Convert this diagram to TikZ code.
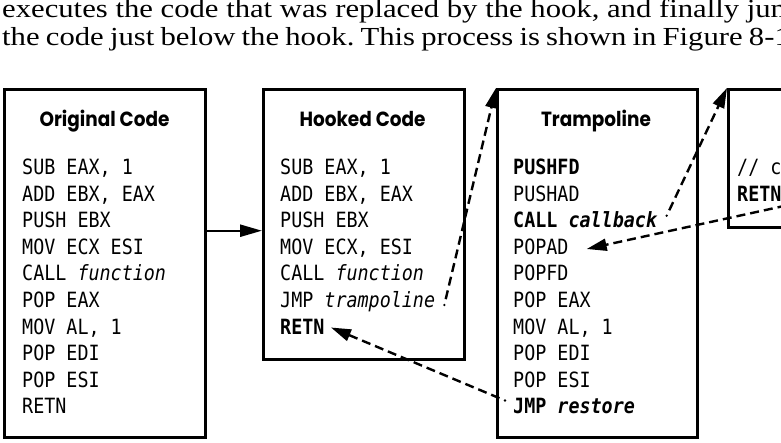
\documentclass[tikz,border=0pt]{standalone}
\usepackage{fontspec}
\setmainfont{Liberation Serif}
\newfontfamily\bodyfont[FakeStretch=1.18]{Liberation Serif}
\newfontfamily\titlefont[FakeStretch=0.9]{Poppins}
\newfontfamily\codefont[FakeStretch=0.875]{DejaVu Sans Mono}
\usetikzlibrary{arrows.meta,calc}
\frenchspacing
\begin{document}
\begin{tikzpicture}[x=1pt,y=-1pt,
  box/.style={draw,line width=2.6pt,rectangle,anchor=north west,inner sep=0pt},
  title/.style={font=\titlefont\bfseries\fontsize{20.5}{20.5}\selectfont,anchor=base,inner sep=0pt},
  code/.style={font=\codefont\fontsize{21}{21}\selectfont,anchor=base west,inner sep=0pt},
  body/.style={font=\bodyfont\fontsize{26}{27}\selectfont,anchor=base west,inner sep=0pt},
  solidarr/.style={line width=2.4pt,-{Triangle[length=22pt,width=12pt]}},
  dasharr/.style={line width=2.4pt,dash pattern=on 9pt off 5pt,-{Triangle[length=20pt,width=12pt]}},
  dotmark/.style={fill=black}]
\useasboundingbox (0,0) rectangle (781,442);
\clip (0,0) rectangle (781,442);
\fill[white] (0,0) rectangle (781,442);
% running text
\node[body] (p1) at (2,17.7) {executes the code that was replaced by the hook, and finally jumps to};
\node[body] (p2) at (2,45) {\spaceskip=6.2pt\relax the code just below the hook. This process is shown in Figure 8-1.};
% boxes
\node[box,minimum width=201pt,minimum height=348pt] (b1) at (3,88) {};
\node[box,minimum width=201pt,minimum height=270pt] (b2) at (262,88) {};
\node[box,minimum width=200pt,minimum height=348pt] (b3) at (496,88) {};
\node[box,minimum width=200pt,minimum height=138pt] (b4) at (727,88) {};
% titles
\node[title] (t1) at (104.5,126) {Original Code};
\node[title] (t2) at (362.5,126) {Hooked Code};
\node[title] (t3) at (596,126) {Trampoline};
% original code
\foreach \t [count=\i from 0] in {{SUB EAX, 1},{ADD EBX, EAX},{PUSH EBX},{MOV ECX ESI},{CALL \textit{function}},{POP EAX},{MOV AL, 1},{POP EDI},{POP ESI},{RETN}}
  \node[code] (o\i) at (22,{174.5+26.6*\i}) {\t};
% hooked code
\foreach \t [count=\i from 0] in {{SUB EAX, 1},{ADD EBX, EAX},{PUSH EBX},{MOV ECX, ESI},{CALL \textit{function}},{JMP \textit{trampoline}},{\textbf{RETN}}}
  \node[code] (h\i) at (280,{174.5+26.6*\i}) {\t};
% trampoline
\foreach \t [count=\i from 0] in {{\textbf{PUSHFD}},{PUSHAD},{\textbf{CALL \textit{callback}}},{POPAD},{POPFD},{POP EAX},{MOV AL, 1},{POP EDI},{POP ESI},{\textbf{JMP \textit{restore}}}}
  \node[code] (r\i) at (513,{174.5+26.6*\i}) {\t};
% callback box (cropped)
\node[code] (c0) at (737,174.5) {// c};
\node[code] (c1) at (737,201.1) {\textbf{RETN}};
% connectors
\coordinate (ya) at (0,230.7);
\draw[solidarr] (b1.east |- ya) -- (b2.west |- ya);
\coordinate (s2) at (444.3,305);
\fill[dotmark] (s2) circle (1.3pt);
\draw[dasharr] ($(s2)!6pt!(b3.north west)$) -- (b3.north west);
\coordinate (s3) at (666.7,215.7);
\fill[dotmark] (s3) circle (1.3pt);
\draw[dasharr] ($(s3)!6pt!(b4.north west)$) -- (b4.north west);
\coordinate (s4) at (800,202.5);
\coordinate (e4) at (586.7,249);
\draw[dasharr] (s4) -- (e4);
\coordinate (s5) at (505,400.5);
\coordinate (e5) at (331,327.5);
\fill[dotmark] (s5) circle (1.3pt);
\draw[dasharr] ($(s5)!6pt!(e5)$) -- (e5);
\end{tikzpicture}
\end{document}
